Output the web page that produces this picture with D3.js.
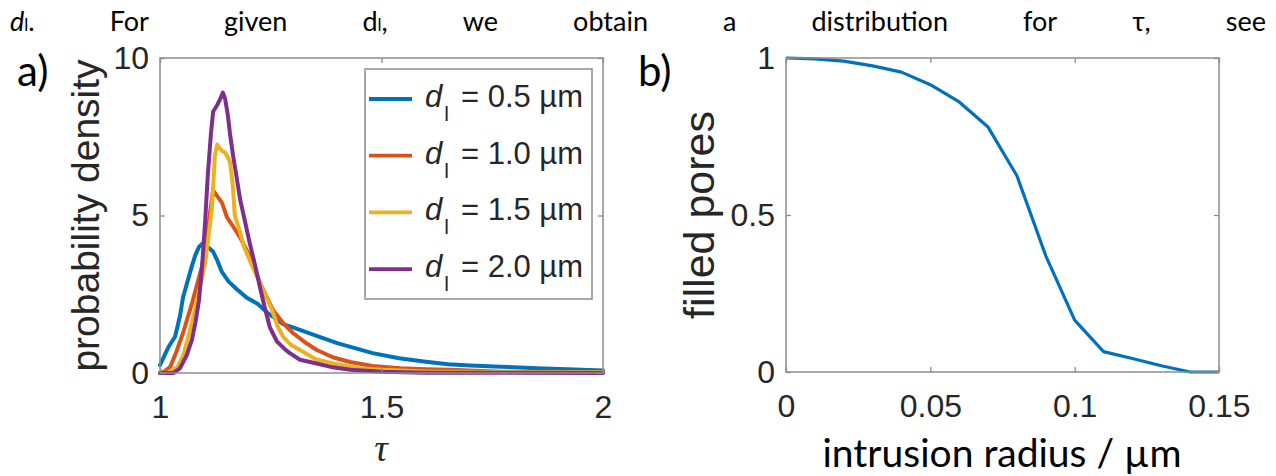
<!DOCTYPE html>
<html><head><meta charset="utf-8">
<script src="https://cdn.jsdelivr.net/npm/d3@7"></script>
<style>html,body{margin:0;padding:0;background:#fff;} svg{display:block}</style>
</head><body>
<svg id="c" width="1276" height="476"></svg>
<script>
// ---------- data: panel a ----------
const legendLabels = ["0.5", "1.0", "1.5", "2.0"];
const seriesColors = ["#0072BD", "#D95319", "#EDB120", "#7E2F8E"];

const blueTau = [1.0,1.01,1.02,1.034,1.045,1.052,1.062,1.072,1.08,1.088,1.095,1.102,1.112,1.12,1.13,1.14,1.155,1.174,1.195,1.22,1.248,1.278,1.3,1.33,1.36,1.4,1.43,1.48,1.54,1.6,1.65,1.7,1.77,1.85,1.92,2.0];
const blueVal = [0.25,0.55,0.85,1.15,1.8,2.4,2.9,3.4,3.75,4.0,4.1,4.05,3.95,3.85,3.55,3.2,2.9,2.65,2.4,2.2,1.85,1.55,1.45,1.3,1.15,0.95,0.83,0.63,0.47,0.36,0.28,0.24,0.2,0.15,0.12,0.08];

const orangeTau = [1.0,1.01,1.023,1.035,1.052,1.074,1.095,1.105,1.113,1.12,1.13,1.14,1.151,1.165,1.181,1.203,1.226,1.255,1.28,1.3,1.33,1.354,1.39,1.429,1.48,1.542,1.6,1.655,1.77,1.9,2.0];
const orangeVal = [0.0,0.05,0.2,0.6,1.27,2.3,3.4,4.2,5.1,5.8,5.6,5.4,4.95,4.65,4.3,3.7,2.85,2.0,1.55,1.27,0.95,0.73,0.5,0.35,0.22,0.15,0.12,0.1,0.04,0.02,0.02];

const yellowTau = [1.0,1.02,1.04,1.052,1.062,1.072,1.084,1.093,1.102,1.11,1.117,1.124,1.129,1.134,1.14,1.147,1.153,1.158,1.164,1.169,1.18,1.19,1.205,1.221,1.237,1.253,1.265,1.278,1.295,1.316,1.35,1.39,1.45,1.503,1.6,1.75,2.0];
const yellowVal = [0,0.02,0.2,0.55,1.05,1.6,2.3,2.9,3.5,4.4,5.2,6.9,7.25,7.15,7.05,7.0,6.85,6.7,6.0,5.0,4.5,4.0,3.5,3.0,2.5,2.0,1.5,1.15,0.9,0.73,0.45,0.3,0.15,0.1,0.05,0.03,0.02];

const purpleTau = [1.0,1.03,1.045,1.06,1.072,1.08,1.088,1.095,1.101,1.108,1.115,1.12,1.129,1.136,1.142,1.147,1.153,1.158,1.165,1.172,1.181,1.192,1.203,1.215,1.226,1.237,1.248,1.264,1.28,1.293,1.316,1.354,1.39,1.43,1.5,1.6,2.0];
const purpleVal = [0,0,0.15,0.55,1.05,1.6,2.3,3.4,4.6,6.3,7.6,8.3,8.5,8.7,8.9,8.7,8.2,7.6,6.9,6.3,5.5,4.8,4.1,3.4,2.7,2.05,1.45,1.0,0.78,0.63,0.42,0.3,0.18,0.1,0.04,0.01,0.0];

const tauTicks = [1, 1.5, 2];
const densityTicks = [0, 5, 10];

// ---------- data: panel b ----------
const radius = [0,0.01,0.02,0.03,0.04,0.05,0.06,0.07,0.08,0.09,0.10,0.11,0.12,0.13,0.14,0.15];
const filled = [1.0,0.997,0.99,0.975,0.955,0.915,0.86,0.78,0.625,0.37,0.165,0.065,0.043,0.02,0.0,0.0];
const radiusTicks = [0, 0.05, 0.1, 0.15];
const filledTicks = [0, 0.5, 1];

// ---------- drawing ----------
const svg = d3.select("#c");
svg.append("rect").attr("width", 1276).attr("height", 476).attr("fill", "#fff");

const AX = "#8c8c8c", TXT = "#262626", SANS = "'Liberation Sans', Arial, sans-serif", CAL = "Lato, 'Open Sans', sans-serif";

function drawAxes(g, x, y, xt, yt, xfmt, yfmt) {
  const [x0, x1] = x.range(), [y0, y1] = y.range();
  const axes = [
    g.append("g").attr("transform", `translate(0,${y0})`).call(d3.axisBottom(x).tickValues(xt).tickFormat(xfmt).tickSize(-5).tickPadding(22)),
    g.append("g").attr("transform", `translate(0,${y1})`).call(d3.axisTop(x).tickValues(xt).tickFormat(() => "").tickSize(-5)),
    g.append("g").attr("transform", `translate(${x0},0)`).call(d3.axisLeft(y).tickValues(yt).tickFormat(yfmt).tickSize(-5).tickPadding(11)),
    g.append("g").attr("transform", `translate(${x1},0)`).call(d3.axisRight(y).tickValues(yt).tickFormat(() => "").tickSize(-5))
  ];
  axes.forEach(a => {
    a.select(".domain").remove();
    a.selectAll("line").attr("stroke", AX).attr("stroke-width", 1.3);
    a.selectAll("text").attr("font-family", SANS).attr("font-size", 32).attr("fill", TXT);
  });
  g.append("rect").attr("x", x0).attr("y", y1).attr("width", x1 - x0).attr("height", y0 - y1)
    .attr("fill", "none").attr("stroke", AX).attr("stroke-width", 1.5);
}

// ----- panel a -----
const xa = d3.scaleLinear().domain([1, 2]).range([160, 603]);
const ya = d3.scaleLinear().domain([0, 10]).range([373, 58]);
const ga = svg.append("g");
const seriesA = [[blueTau, blueVal], [orangeTau, orangeVal], [yellowTau, yellowVal], [purpleTau, purpleVal]];
const lineA = d3.line().x(d => xa(d[0])).y(d => ya(d[1]));
seriesA.forEach((s, i) => {
  const pts = s[0].map((t, j) => [t, s[1][j]]);
  ga.append("path").attr("d", lineA(pts)).attr("fill", "none").attr("stroke", seriesColors[i])
    .attr("stroke-width", 4).attr("stroke-linejoin", "round").attr("stroke-linecap", "round");
});
drawAxes(ga, xa, ya, tauTicks, densityTicks, d => String(d), d => String(d));

// legend
const lg = ga.append("g");
lg.append("rect").attr("x", 365).attr("y", 69).attr("width", 227).attr("height", 230)
  .attr("fill", "#fff").attr("stroke", AX).attr("stroke-width", 1.5);
legendLabels.forEach((lab, i) => {
  const ry = 99 + i * 56.7;
  lg.append("line").attr("x1", 369).attr("x2", 412).attr("y1", ry).attr("y2", ry)
    .attr("stroke", seriesColors[i]).attr("stroke-width", 3.8);
  const t = lg.append("text").attr("x", 425).attr("y", ry + 8).attr("font-family", SANS)
    .attr("font-size", 31).attr("fill", TXT);
  t.append("tspan").attr("font-style", "italic").text("d");
  t.append("tspan").attr("font-size", 21).attr("dy", 14).attr("dx", 2).text("l");
  t.append("tspan").attr("dy", -14).attr("dx", 12).text("= " + lab + " µm");
});

// labels
svg.append("text").attr("transform", "translate(99,215.5) rotate(-90)").attr("text-anchor", "middle")
  .attr("font-family", SANS).attr("font-size", 39).attr("fill", TXT).text("probability density");
svg.append("text").attr("x", 381).attr("y", 461).attr("text-anchor", "middle")
  .attr("font-family", "'Liberation Serif', 'DejaVu Serif', serif").attr("font-style", "italic")
  .attr("font-size", 38).attr("fill", TXT).text("τ");
svg.append("text").attr("x", 17).attr("y", 86).attr("font-family", CAL).attr("font-size", 42).attr("fill", "#000").text("a)");

// ----- panel b -----
const xb = d3.scaleLinear().domain([0, 0.15]).range([786, 1219]);
const yb = d3.scaleLinear().domain([0, 1]).range([372, 58]);
const gb = svg.append("g");
gb.append("path").attr("d", d3.line().x((d, i) => xb(radius[i])).y(d => yb(d))(filled))
  .attr("fill", "none").attr("stroke", seriesColors[0]).attr("stroke-width", 3.2).attr("stroke-linejoin", "round");
drawAxes(gb, xb, yb, radiusTicks, filledTicks, d => String(d), d => String(d));

svg.append("text").attr("transform", "translate(714,215) rotate(-90)").attr("text-anchor", "middle")
  .attr("font-family", SANS).attr("font-size", 43).attr("fill", TXT).text("filled pores");
const xl = svg.append("text").attr("x", 1002).attr("y", 467).attr("text-anchor", "middle")
  .attr("font-family", CAL).attr("font-size", 40).attr("fill", "#000").text("intrusion radius / µm");
const w0 = xl.node().getComputedTextLength();
xl.attr("font-size", 40 * 359 / w0);
svg.append("text").attr("x", 638).attr("y", 86).attr("font-family", CAL).attr("font-size", 42).attr("fill", "#000").text("b)");

// ----- top running text (justified) -----
const words = [
  [["d", "italic"], ["l", "sub"], ["."]],
  [["For"]], [["given"]], [["d"], ["l", "sub"], [","]], [["we"]], [["obtain"]], [["a"]],
  [["distribution"]], [["for"]], [["τ,"]], [["see"]]
];
const tg = svg.append("g");
const nodes = words.map(w => {
  const t = tg.append("text").attr("y", 31).attr("font-family", CAL).attr("font-size", 27).attr("fill", "#000");
  w.forEach(seg => {
    const sp = t.append("tspan").text(seg[0]);
    if (seg[1] === "italic") sp.attr("font-style", "italic");
    if (seg[1] === "sub") sp.attr("font-size", 17);
  });
  return t;
});
const widths = nodes.map(n => n.node().getComputedTextLength());
const left = 10, right = 1266;
const gap = (right - left - d3.sum(widths)) / (nodes.length - 1);
let cx = left;
nodes.forEach((n, i) => { n.attr("x", cx); cx += widths[i] + gap; });
</script>
</body></html>
